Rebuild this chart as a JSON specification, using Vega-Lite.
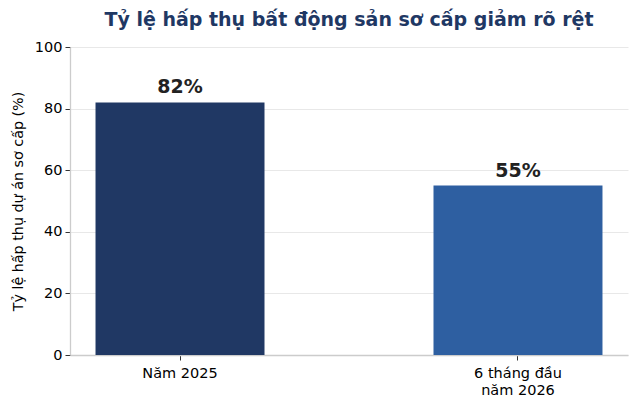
{
  "$schema": "https://vega.github.io/schema/vega-lite/v6.json",
  "width": 558,
  "height": 308,
  "autosize": {"type": "none"},
  "padding": {"left": 70, "top": 47, "right": 12, "bottom": 54},
  "title": {
    "text": "Tỷ lệ hấp thụ bất động sản sơ cấp giảm rõ rệt",
    "font": "DejaVu Sans",
    "fontSize": 19,
    "fontWeight": "bold",
    "color": "#1f3864",
    "anchor": "middle",
    "offset": 9
  },
  "config": {
    "font": "DejaVu Sans",
    "view": {"stroke": null},
    "axis": {
      "labelFont": "DejaVu Sans",
      "labelFontSize": 14.5,
      "labelColor": "#000000",
      "tickColor": "#333333",
      "tickSize": 5,
      "domainColor": "#cccccc",
      "domainWidth": 1.3,
      "titleFont": "DejaVu Sans",
      "titleFontWeight": "normal",
      "titleColor": "#000000"
    }
  },
  "data": {
    "values": [
      {"period": "Năm 2025", "rate": 82, "label": "82%"},
      {"period": "6 tháng đầu năm 2026", "rate": 55, "label": "55%"}
    ]
  },
  "encoding": {
    "x": {
      "field": "period",
      "type": "nominal",
      "sort": null,
      "scale": {"paddingInner": 0.5, "paddingOuter": 0.0755},
      "axis": {
        "title": null,
        "labelAngle": 0,
        "labelPadding": 6,
        "labelLineHeight": 17.5,
        "grid": false,
        "labelExpr": "datum.label == '6 tháng đầu năm 2026' ? ['6 tháng đầu', 'năm 2026'] : datum.label"
      }
    },
    "y": {
      "field": "rate",
      "type": "quantitative",
      "scale": {"domain": [0, 100]},
      "axis": {
        "title": "Tỷ lệ hấp thụ dự án sơ cấp (%)",
        "titleFontSize": 14.3,
        "titlePadding": 9,
        "values": [0, 20, 40, 60, 80, 100],
        "labelPadding": 3,
        "grid": true,
        "gridColor": "#e8e8e8",
        "gridWidth": 1
      }
    }
  },
  "layer": [
    {
      "mark": {"type": "bar"},
      "encoding": {
        "color": {
          "field": "period",
          "type": "nominal",
          "sort": null,
          "scale": {"range": ["#203864", "#2e5fa1"]},
          "legend": null
        }
      }
    },
    {
      "mark": {
        "type": "text",
        "baseline": "bottom",
        "dy": -5,
        "fontSize": 19,
        "fontWeight": "bold",
        "color": "#222222"
      },
      "encoding": {"text": {"field": "label"}}
    }
  ]
}
